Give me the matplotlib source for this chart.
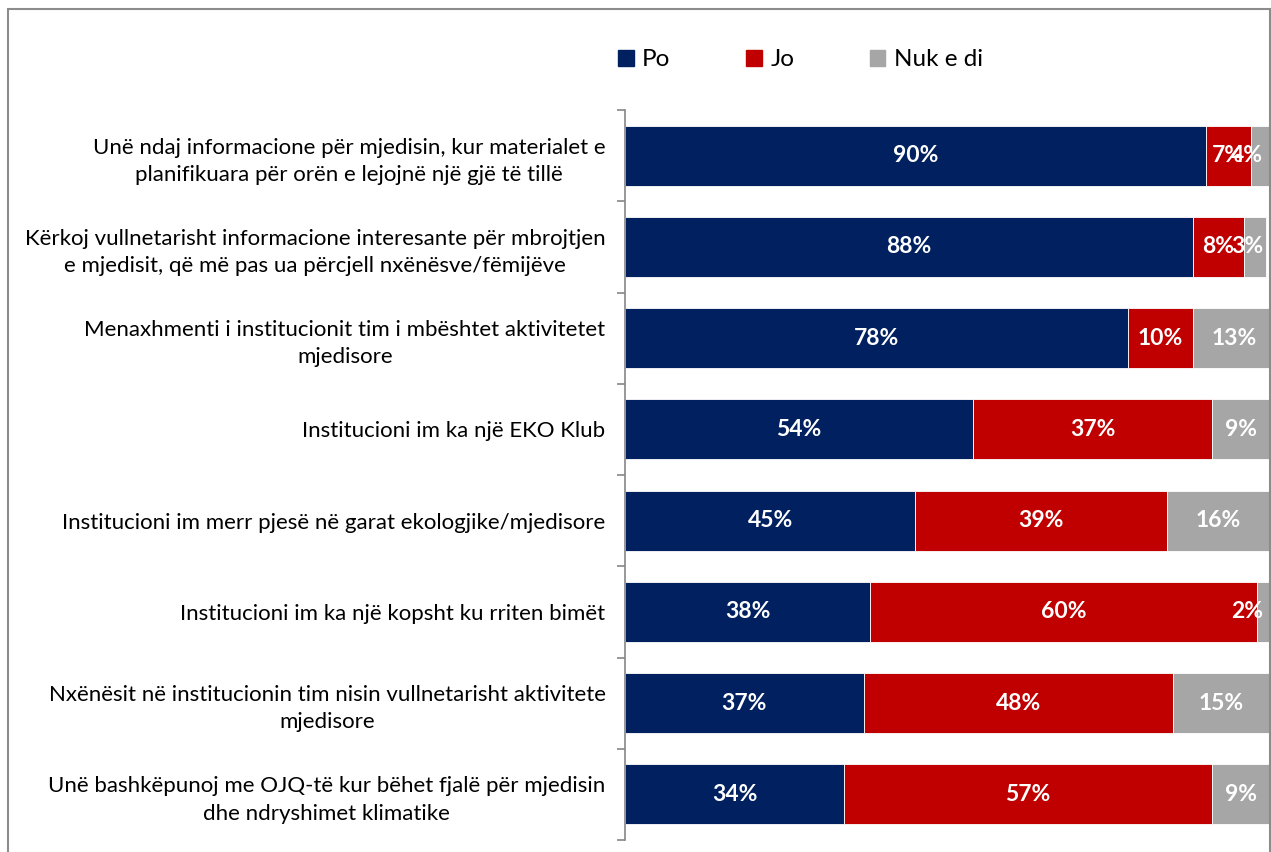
import numpy as np
import matplotlib.pyplot as plt
from matplotlib.patches import Rectangle, Patch

plt.rcParams['font.family'] = ['Lato', 'DejaVu Sans']

categories = [
    'Unë ndaj informacione për mjedisin, kur materialet e\nplanifikuara për orën e lejojnë një gjë të tillë',
    'Kërkoj vullnetarisht informacione interesante për mbrojtjen\ne mjedisit, që më pas ua përcjell nxënësve/fëmijëve',
    'Menaxhmenti i institucionit tim i mbështet aktivitetet\nmjedisore',
    'Institucioni im ka një EKO Klub',
    'Institucioni im merr pjesë në garat ekologjike/mjedisore',
    'Institucioni im ka një kopsht ku rriten bimët',
    'Nxënësit në institucionin tim nisin vullnetarisht aktivitete\nmjedisore',
    'Unë bashkëpunoj me OJQ-të kur bëhet fjalë për mjedisin\ndhe ndryshimet klimatike',
]
po = [90, 88, 78, 54, 45, 38, 37, 34]
jo = [7, 8, 10, 37, 39, 60, 48, 57]
nuk = [4, 3.4, 13, 9, 16, 2, 15, 9]

series = [('Po', po, '#002060'), ('Jo', jo, '#C00000'), ('Nuk e di', nuk, '#A6A6A6')]

W, H = 1271, 852
fig = plt.figure(figsize=(W / 100, H / 100), dpi=100)
ax = fig.add_axes([625 / W, 1 - 840 / H, (1270 - 625) / W, (840 - 110) / H])

y = np.arange(len(categories))
left = np.zeros(len(categories))
labels = []
for name, vals, col in series:
    vals = np.array(vals, dtype=float)
    ax.barh(y, vals, left=left, height=0.66, color=col, edgecolor='white',
            linewidth=0.6, label=name)
    for yi, (l, v) in enumerate(zip(left, vals)):
        t = ax.text(l + v / 2, yi, f'{v:.0f}%', ha='center', va='center',
                    color='white', fontsize=16.5, fontweight='bold')
        labels.append(t)
    left += vals

ax.set_xlim(0, 100)
ax.set_ylim(len(categories) - 0.5, -0.5)
ax.set_xticks([])
ax.set_yticks(y)
ax.set_yticklabels(categories, fontsize=16, multialignment='center',
                   linespacing=1.45)
ax.tick_params(axis='y', which='major', length=0, pad=14)
ax.set_yticks(np.arange(len(categories) + 1) - 0.5, minor=True)
ax.tick_params(axis='y', which='minor', length=6, width=1.2, color='#868686')
for s in ['top', 'right', 'bottom']:
    ax.spines[s].set_visible(False)
ax.spines['left'].set_color('#868686')
ax.spines['left'].set_linewidth(1.2)

# keep value labels inside the plot area, like the original
fig.canvas.draw()
r = fig.canvas.get_renderer()
limit = 1263
for t in labels:
    bb = t.get_window_extent(r)
    if bb.x1 > limit:
        x_disp = ax.transData.transform((t.get_position()[0], 0))[0] - (bb.x1 - limit)
        t.set_x(ax.transData.inverted().transform((x_disp, 0))[0])

handles = [Patch(color=c) for _, _, c in series]
fig.legend(handles, [n for n, _, _ in series], loc='center left',
           bbox_to_anchor=(596 / W, 1 - 60 / H), ncol=3, frameon=False,
           fontsize=17.5, handlelength=0.65, handleheight=0.65, handletextpad=0.35,
           columnspacing=3.1)

fig.patches.append(Rectangle((8 / W, -0.05), (1270 - 8) / W, 1.05 - 9 / H,
                             transform=fig.transFigure, fill=False,
                             edgecolor='#8c8c8c', linewidth=1.5))

plt.savefig('out.png', dpi=100)
